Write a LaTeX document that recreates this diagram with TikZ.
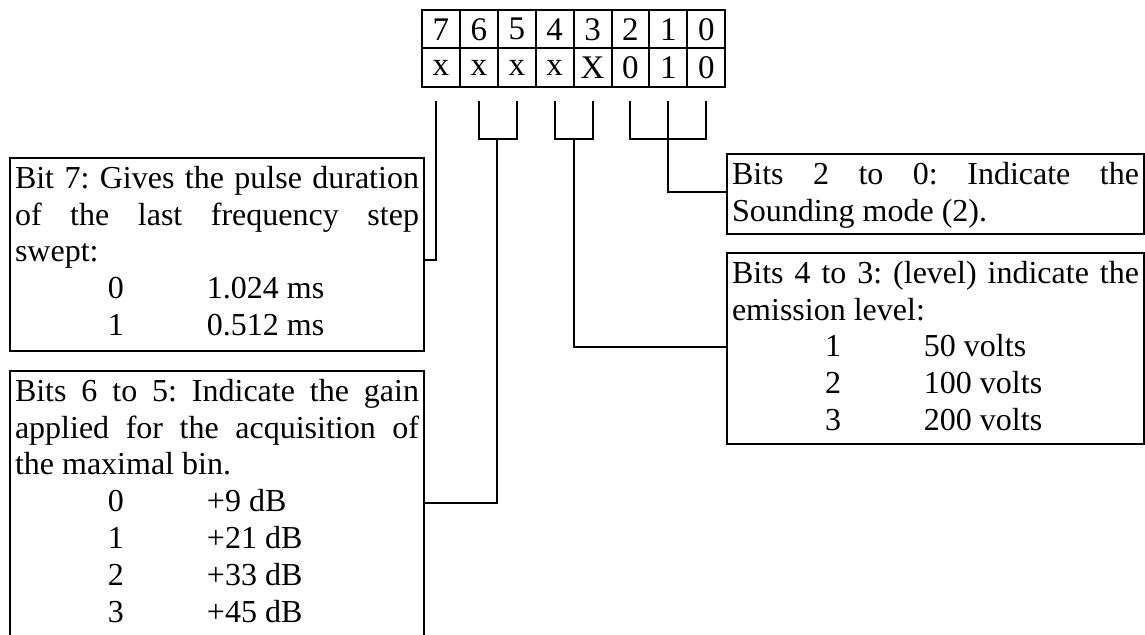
\documentclass[tikz,border=0pt]{standalone}
\usepackage{fontspec}
\setmainfont{Liberation Serif}
\frenchspacing
\tikzset{
  cell/.style={draw, line width=1pt, minimum width=18.95pt, minimum height=19.25pt, inner sep=0pt, font=\fontsize{16.5}{18.4}\selectfont},
  infobox/.style={draw, line width=1pt, inner xsep=2.5pt, inner ysep=0pt, anchor=north west},
  wire/.style={line width=1pt},
}
\newcommand\tabrow[2]{\hspace*{46.5pt}\makebox[49.5pt][l]{#1}#2}
\newcommand\jline[1]{\makebox[\linewidth][s]{#1}}
\newcommand\boxtext[3]{\parbox[t][#2][t]{#1}{\frenchspacing\fontsize{16}{18.4}\selectfont\rule{0pt}{15.2pt}#3}}
\begin{document}
\begin{tikzpicture}[x=0.5pt,y=-0.5pt]
\useasboundingbox (0,0) rectangle (1145,635);
\clip (0,0) rectangle (1145,635);
% bit table
\foreach \b/\v [count=\k from 0] in {7/x,6/x,5/x,4/x,3/X,2/0,1/1,0/0}{
  \node[cell] (h\b) at ({422+37.9*(\k+0.5)},29.25) {\b};
  \node[cell] (v\b) at ({422+37.9*(\k+0.5)},67.75) {\v};
}
% description boxes
\node[infobox] (box7) at (9,157) {\boxtext{202pt}{96.5pt}{%
  \jline{Bit 7: Gives the pulse duration}\\
  \jline{of the last frequency step}\\
  swept:\\
  \tabrow{0}{1.024 ms}\\
  \tabrow{1}{0.512 ms}}};
\node[infobox] (box65) at (9,370) {\boxtext{202pt}{150pt}{%
  \jline{Bits 6 to 5: Indicate the gain}\\
  \jline{applied for the acquisition of}\\
  the maximal bin.\\
  \tabrow{0}{+9 dB}\\
  \tabrow{1}{+21 dB}\\
  \tabrow{2}{+33 dB}\\
  \tabrow{3}{+45 dB}}};
\node[infobox] (box20) at (726,153) {\boxtext{203.5pt}{40pt}{%
  \jline{Bits 2 to 0: Indicate the}\\
  Sounding mode (2).}};
\node[infobox] (box43) at (726,252) {\boxtext{203.5pt}{95.5pt}{%
  \jline{Bits 4 to 3: (level) indicate the}\\
  emission level:\\
  \tabrow{1}{50 volts}\\
  \tabrow{2}{100 volts}\\
  \tabrow{3}{200 volts}}};
% connector helper coordinates
\coordinate (top) at (0,101);
\coordinate (bot) at (0,139);
\coordinate (a7) at (436,101);
\coordinate (b7) at (436,260);
\coordinate (j65) at (497,139);
\coordinate (k65) at (497,503);
\coordinate (j43) at (574,139);
\coordinate (k43) at (574,347);
\coordinate (k20) at (669,192);
% bit 7
\draw[wire] (a7) -- (b7) -- (b7 -| box7.east);
% bits 6-5
\draw[wire] (h6 |- top) -- (h6 |- bot) -- (h5 |- bot) -- (h5 |- top);
\draw[wire] (j65) -- (k65) -- (k65 -| box65.east);
% bits 4-3
\draw[wire] (h4 |- top) -- (h4 |- bot) -- (h3 |- bot) -- (h3 |- top);
\draw[wire] (j43) -- (k43) -- (k43 -| box43.west);
% bits 2-0
\draw[wire] (h2 |- top) -- (h2 |- bot) -- (h0 |- bot) -- (h0 |- top);
\draw[wire] (h1 |- top) -- (h1 |- k20) -- (k20 -| box20.west);
\end{tikzpicture}
\end{document}
